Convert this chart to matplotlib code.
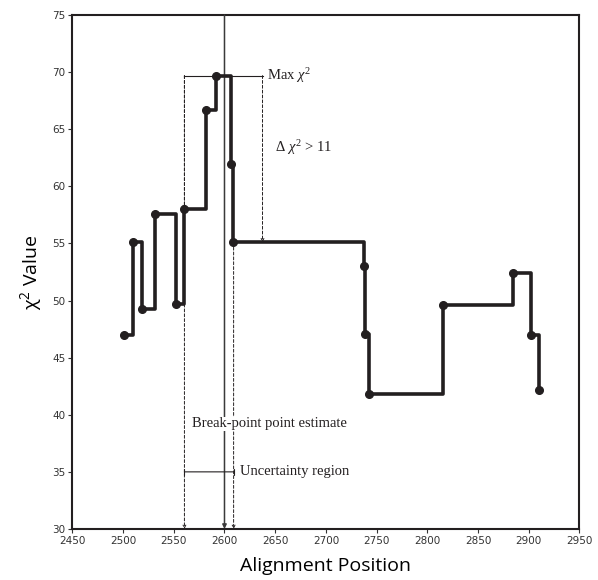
import matplotlib
matplotlib.use('Agg')
import matplotlib.pyplot as plt

# step profile of chi-square along the alignment
pos = [2501, 2510, 2519, 2531, 2552, 2560, 2582, 2592, 2606, 2608,
       2738, 2739, 2742, 2815, 2884, 2902, 2910]
chi2 = [47.0, 55.1, 49.3, 57.6, 49.7, 58.0, 66.7, 69.7, 62.0, 55.1,
        53.0, 47.1, 41.8, 49.6, 52.4, 47.0, 42.2]

# break point and its uncertainty interval
bp = 2600
unc_lo, unc_hi = 2560.5, 2609
max_chi2 = 69.7
cut_chi2 = 55.1
delta_x = 2637.5

xticks = [2450, 2500, 2550, 2600, 2650, 2700, 2750, 2800, 2850, 2900, 2950]
yticks = [30, 35, 40, 45, 50, 55, 60, 65, 70, 75]

ink = '#231f20'
serif = 'Liberation Serif'

plt.rcParams['mathtext.fontset'] = 'custom'
plt.rcParams['mathtext.rm'] = serif
plt.rcParams['mathtext.it'] = serif + ':italic'

fig = plt.figure(figsize=(5.98, 5.80), dpi=100)
ax = fig.add_axes([0.121, 0.088, 0.848, 0.886])

ax.plot(pos, chi2, drawstyle='steps-post', color=ink, lw=2.6, zorder=4)
ax.plot(pos, chi2, 'o', color=ink, ms=5.5, zorder=5)

# break-point estimate
ax.annotate('', xy=(bp, 30), xytext=(bp, 75),
            arrowprops=dict(arrowstyle='-|>', color='#3a3a3a', lw=1.1,
                            mutation_scale=6, shrinkA=0, shrinkB=0),
            zorder=3)

dash = dict(arrowstyle='->', color=ink, lw=0.7, linestyle=(0, (3, 2)),
            mutation_scale=5, shrinkA=0, shrinkB=0)
# dashed guides
ax.annotate('', xy=(unc_lo, 30), xytext=(unc_lo, max_chi2), arrowprops=dash, zorder=2)
ax.annotate('', xy=(unc_lo, 58.0), xytext=(unc_lo, max_chi2), arrowprops=dash, zorder=2)
ax.annotate('', xy=(unc_hi, 30), xytext=(unc_hi, cut_chi2), arrowprops=dash, zorder=2)
ax.annotate('', xy=(delta_x, cut_chi2), xytext=(delta_x, max_chi2), arrowprops=dash, zorder=2)

# max chi-square level
ax.plot([unc_lo, delta_x], [max_chi2, max_chi2], color=ink, lw=0.8, zorder=2)
ax.text(delta_x + 4, max_chi2, r'Max $\chi^2$', family=serif, fontsize=10.5,
        va='center', ha='left', color=ink)
ax.text(2650, 63.4, r'$\Delta$ $\chi^2$ > 11', family=serif, fontsize=10.5,
        va='center', ha='left', color=ink)

# uncertainty region
ax.annotate('', xy=(unc_lo, 35), xytext=(unc_hi, 35),
            arrowprops=dict(arrowstyle='|-|', color=ink, lw=0.8,
                            mutation_scale=2, shrinkA=0, shrinkB=0))
ax.text(2615, 35, 'Uncertainty region', family=serif, fontsize=10.5,
        va='center', ha='left', color=ink)
ax.text(2568, 39.2, 'Break-point point estimate', family=serif, fontsize=10.5,
        va='center', ha='left', color=ink,
        bbox=dict(facecolor='white', edgecolor='none', pad=0.5))

ax.set_xlim(2450, 2950)
ax.set_ylim(30, 75)
ax.set_xticks(xticks)
ax.set_yticks(yticks)
ax.tick_params(direction='out', length=3, width=0.8, labelsize=7.5, colors='#333333',
               pad=2)
for s in ax.spines.values():
    s.set_linewidth(1.5)
    s.set_color(ink)

ax.set_xlabel('Alignment Position', family='Open Sans', fontsize=14, labelpad=8)
ax.set_ylabel(r'$\mathregular{\chi^2}$ Value', family='Open Sans', fontsize=14,
              labelpad=6)

fig.savefig('out.png', dpi=100)
